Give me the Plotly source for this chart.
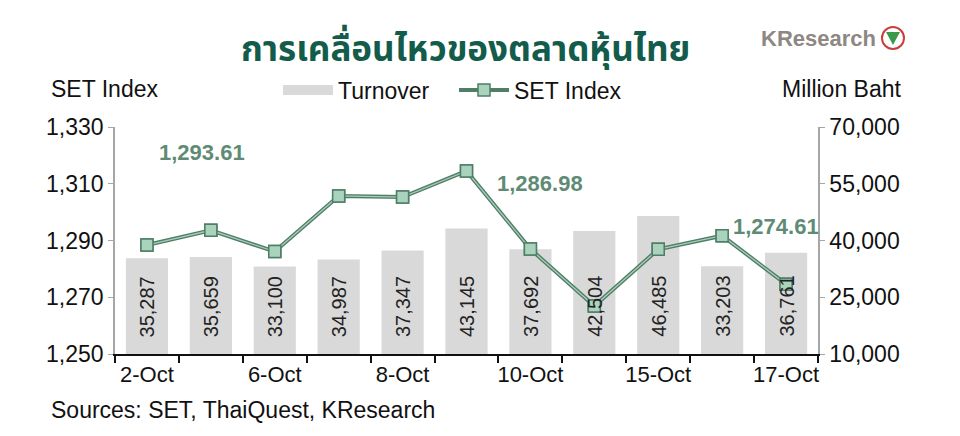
import plotly.graph_objects as go

# ---- data ----
dates = ["2-Oct", "3-Oct", "6-Oct", "7-Oct", "8-Oct", "9-Oct", "10-Oct",
         "14-Oct", "15-Oct", "16-Oct", "17-Oct"]
tick_labels = ["2-Oct", "", "6-Oct", "", "8-Oct", "", "10-Oct", "", "15-Oct", "", "17-Oct"]
turnover = [35287, 35659, 33100, 34987, 37347, 43145, 37692, 42504, 46485, 33203, 36761]
set_index = [1288.4, 1293.61, 1286.1, 1305.7, 1305.3, 1314.5, 1286.98,
             1266.9, 1286.9, 1291.7, 1274.61]
highlight_idx = [1, 6, 10]

left_ticks = [1250, 1270, 1290, 1310, 1330]
right_ticks = [10000, 25000, 40000, 55000, 70000]

FONT = "Liberation Sans, Arial, sans-serif"
DARK = "#4f7d66"
LIGHT = "#a9d3bd"
LABEL_GREEN = "#5f8b75"

# page body has an 8px margin; work in screenshot coordinates and shift
OFF = 8
W, H = 960 - OFF, 436 - OFF
PL, PR, PT, PB = 115, 818, 127, 354          # plot area in screenshot pixels
L, R, T, B = PL - OFF, W - (PR - OFF), PT - OFF, H - (PB - OFF)
pw, ph = PR - PL, PB - PT


def px(x):
    return (x - PL) / pw


def py(y):
    return (PB - y) / ph


fig = go.Figure()

fig.add_trace(go.Bar(
    x=dates, y=turnover, name="Turnover", yaxis="y", showlegend=False,
    marker=dict(color="#d9d9d9", line=dict(width=0)),
    width=0.66,
))
# legend entry for turnover (wide grey swatch)
fig.add_trace(go.Scatter(
    x=[None], y=[None], name="Turnover", mode="lines", yaxis="y",
    line=dict(color="#d9d9d9", width=14),
))
fig.add_trace(go.Scatter(
    x=dates, y=set_index, name="SET Index", yaxis="y2",
    mode="lines+markers",
    line=dict(color=DARK, width=4),
    marker=dict(symbol="square", size=12, color=LIGHT, line=dict(color=DARK, width=1.5)),
))
fig.add_trace(go.Scatter(
    x=dates, y=set_index, yaxis="y2", mode="lines", showlegend=False,
    line=dict(color="#a8cdb9", width=1.3), hoverinfo="skip",
))
fig.add_trace(go.Scatter(
    x=dates, y=set_index, yaxis="y2", mode="markers", showlegend=False,
    marker=dict(symbol="square", size=12, color=LIGHT, line=dict(color=DARK, width=1.5)),
    hoverinfo="skip",
))

annotations = []
# bar value labels, rotated, sitting on the axis floor
for d, v in zip(dates, turnover):
    annotations.append(dict(
        text=f"{v:,}", x=d, y=right_ticks[0], xref="x", yref="y",
        showarrow=False, textangle=-90, xanchor="center", yanchor="bottom", yshift=15,
        font=dict(family=FONT, size=20, color="#222222")))

label_pos = [(202, 152), (540, 183), (776, 226)]
for i, (ax, ay) in zip(highlight_idx, label_pos):
    annotations.append(dict(
        text=f"<b>{set_index[i]:,.2f}</b>", x=px(ax), y=py(ay), xref="paper", yref="paper",
        showarrow=False, xanchor="center", yanchor="middle",
        font=dict(family=FONT, size=22, color=LABEL_GREEN)))

annotations += [
    dict(text="<b>การเคลื่อนไหวของตลาดหุ้นไทย</b>", x=px(465), y=py(50), xref="paper", yref="paper",
         showarrow=False, xanchor="center", yanchor="middle",
         font=dict(family="Noto Sans Thai, Loma, Garuda, Tlwg Typo, sans-serif", size=35, color="#135c4b")),
    dict(text="<b>KResearch</b>", x=px(878), y=py(38), xref="paper", yref="paper",
         showarrow=False, xanchor="right", yanchor="middle",
         font=dict(family=FONT, size=22, color="#8e8782")),
    dict(text="SET Index", x=px(49), y=py(89), xref="paper", yref="paper",
         showarrow=False, xanchor="left", yanchor="middle",
         font=dict(family=FONT, size=23, color="#111111")),
    dict(text="Million Baht", x=px(903), y=py(89), xref="paper", yref="paper",
         showarrow=False, xanchor="right", yanchor="middle",
         font=dict(family=FONT, size=23, color="#111111")),
    dict(text="Sources: SET, ThaiQuest, KResearch", x=px(49), y=py(410), xref="paper", yref="paper",
         showarrow=False, xanchor="left", yanchor="middle",
         font=dict(family=FONT, size=23, color="#111111")),
]

shapes = [
    dict(type="circle", xref="paper", yref="paper",
         x0=px(882), x1=px(904), y0=py(49), y1=py(27),
         line=dict(color="#c8403c", width=2), fillcolor="white"),
    dict(type="path", xref="paper", yref="paper",
         path=f"M {px(886)} {py(32)} L {px(900)} {py(32)} L {px(893)} {py(45)} Z",
         line=dict(width=0), fillcolor="#3a9a4a"),
]

fig.update_layout(
    width=W, height=H,
    margin=dict(l=L, r=R, t=T, b=B),
    plot_bgcolor="white", paper_bgcolor="white",
    font=dict(family=FONT, size=22, color="#111111"),
    showlegend=True,
    legend=dict(orientation="h", x=px(278), y=py(90), xanchor="left", yanchor="middle",
                font=dict(family=FONT, size=23, color="#111111"),
                bgcolor="rgba(0,0,0,0)", itemwidth=50, entrywidth=111,
                entrywidthmode="pixels", tracegroupgap=0),
    xaxis=dict(type="category", range=[-0.5, len(dates) - 0.5],
               tickson="boundaries", ticks="outside", ticklen=7,
               tickwidth=2, tickcolor="#111111", showline=True, linecolor="#111111",
               linewidth=2, tickvals=dates, ticktext=tick_labels, showgrid=False,
               tickfont=dict(family=FONT, size=22, color="#111111"), tickangle=0),
    yaxis=dict(side="right", range=[10000, 70000], tickvals=right_ticks,
               ticktext=[f"{v:,}" for v in right_ticks], showgrid=False, zeroline=False,
               showline=True, linecolor="#a6a6a6", linewidth=1.5, ticks="outside",
               ticklen=5, tickcolor="#a6a6a6",
               tickfont=dict(family=FONT, size=23, color="#111111")),
    yaxis2=dict(overlaying="y", side="left", range=[1250, 1330], tickvals=left_ticks,
                ticktext=[f"{v:,}" for v in left_ticks], showgrid=False, zeroline=False,
                showline=True, linecolor="#a6a6a6", linewidth=1.5, ticks="outside",
                ticklen=5, tickcolor="#a6a6a6",
                tickfont=dict(family=FONT, size=23, color="#111111")),
    annotations=annotations,
    shapes=shapes,
)

fig.write_html("out.html")
